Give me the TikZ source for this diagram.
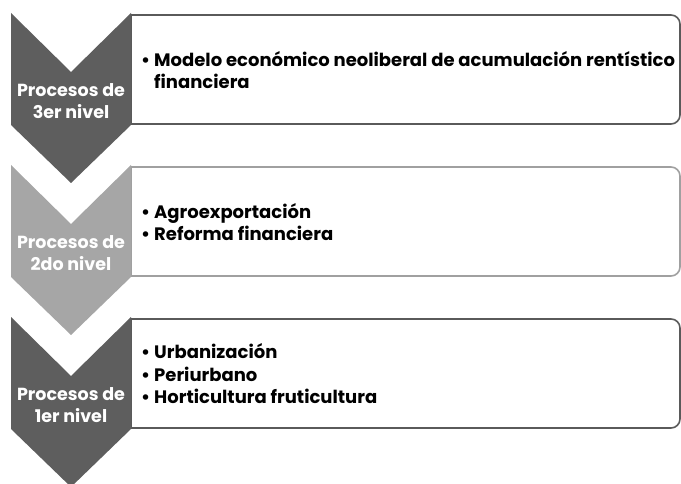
\documentclass[tikz,border=0pt]{standalone}
\usepackage{fontspec}
\setmainfont{Poppins}
\usetikzlibrary{calc}
\definecolor{darkg}{HTML}{5E5E5E}
\definecolor{lightg}{HTML}{A6A6A6}
\definecolor{bdark}{HTML}{5A5A5A}
\definecolor{blight}{HTML}{A0A0A0}
\newcommand{\bul}{\makebox[13pt][l]{•}}
\tikzset{
  chevtext/.style={text=white, font=\bfseries\fontsize{17.5}{21.5}\selectfont, align=center, inner sep=0pt},
  itemtext/.style={text=black, font=\bfseries\fontsize{18}{22.5}\selectfont, align=left, anchor=west, inner sep=0pt},
  boxline/.style={line width=1.6pt}
}
\newcommand{\tier}[6]{%
  % #1 top y, #2 fill colour, #3 border colour, #4 chevron text, #5 item text, #6 name
  \draw[boxline, draw=#3, fill=white, rounded corners=9pt]
    (131,#1+2) -- (680,#1+2) -- (680,#1+111) -- (131,#1+111);
  \draw[boxline, draw=#3] (131,#1+2) -- (131,#1+111);
  \fill[#2] (11,#1) -- (71,#1+59) -- (131,#1) -- (131,#1+112) -- (71,#1+170) -- (11,#1+112) -- cycle;
  \node[chevtext] (c#6) at (71,#1+88) {#4};
  \node[itemtext] (t#6) at (141,#1+57) {#5};
}
\begin{document}
\begin{tikzpicture}[x=1pt,y=-1pt]
\useasboundingbox (0,0) rectangle (681,484);
\tier{13}{darkg}{bdark}{Procesos de\\3er nivel}{\bul Modelo económico neoliberal de acumulación rentístico\\\hspace*{13pt}financiera}{1}
\tier{165}{lightg}{blight}{Procesos de\\2do nivel}{\bul Agroexportación\\\bul Reforma financiera}{2}
\tier{317}{darkg}{bdark}{Procesos de\\1er nivel}{\bul Urbanización\\\bul Periurbano\\\bul Horticultura fruticultura}{3}
\end{tikzpicture}
\end{document}
